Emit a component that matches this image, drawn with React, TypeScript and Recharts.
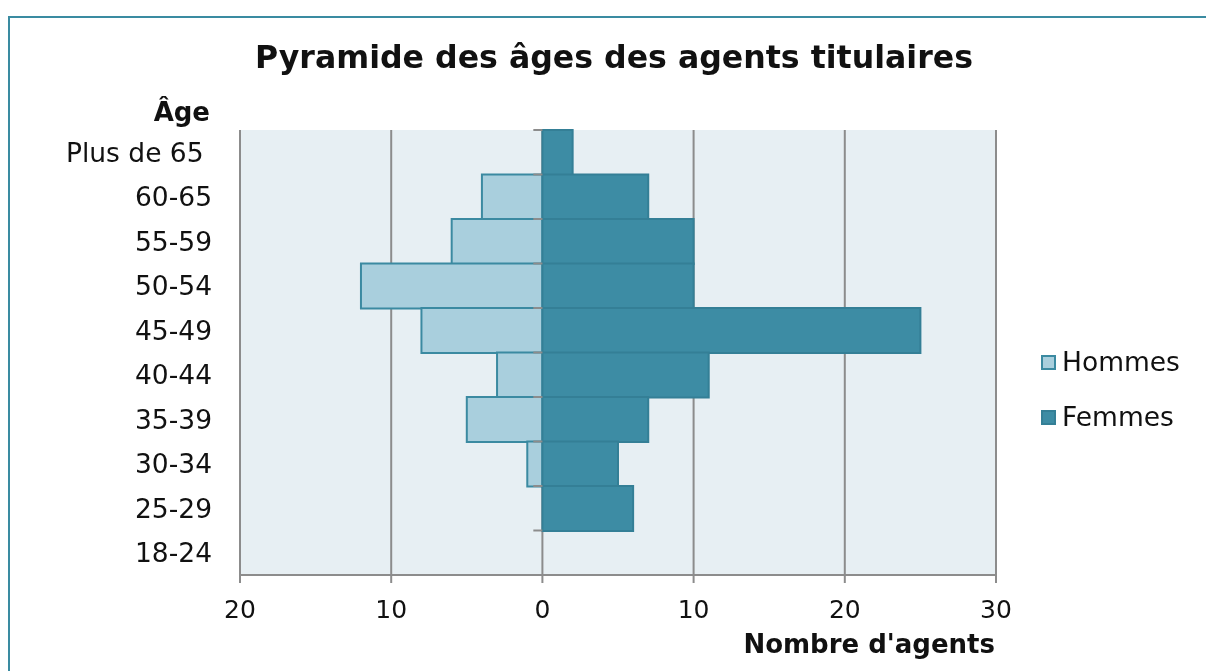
import React from "react";
import {
  BarChart,
  Bar,
  XAxis,
  YAxis,
  CartesianGrid,
  ReferenceLine,
  Legend,
} from "recharts";

const ageGroups = [
  "Plus de 65\u00a0",
  "60-65",
  "55-59",
  "50-54",
  "45-49",
  "40-44",
  "35-39",
  "30-34",
  "25-29",
  "18-24",
];
const hommes = [0, 4, 6, 12, 8, 3, 5, 1, 0, 0];
const femmes = [2, 7, 10, 10, 25, 11, 7, 5, 6, 0];
const xTicks = [-20, -10, 0, 10, 20, 30];
const seriesOrder = ["Hommes", "Femmes"];

const data = ageGroups.map((age, i) => ({
  age,
  Hommes: -hommes[i],
  Femmes: femmes[i],
}));

const FONT = "'DejaVu Sans', Verdana, sans-serif";
const GRID = "#8c8c8c";
const H_FILL = "#a9cfdd";
const H_STROKE = "#3b8aa1";
const F_FILL = "#3d8ca4";
const F_STROKE = "#347f96";

const strokes: Record<string, string> = { Hommes: H_STROKE, Femmes: F_STROKE };

const LegendContent = (props: any) => {
  const payload = [...(props.payload || [])].sort(
    (a: any, b: any) => seriesOrder.indexOf(a.value) - seriesOrder.indexOf(b.value)
  );
  return (
    <div style={{ fontFamily: FONT }}>
      {payload.map((entry: any, i: number) => (
        <div
          key={i}
          style={{
            display: "flex",
            alignItems: "center",
            height: 30,
            marginBottom: 25,
          }}
        >
          <div
            style={{
              width: 11,
              height: 11,
              background: entry.color,
              border: `2px solid ${strokes[entry.value] || entry.color}`,
              marginRight: 6,
            }}
          />
          <span style={{ fontSize: 26.5, color: "#111", lineHeight: "30px" }}>
            {entry.value}
          </span>
        </div>
      ))}
    </div>
  );
};

export default function App() {
  return (
    <div
      style={{
        position: "relative",
        width: 1198,
        height: 655,
        overflow: "hidden",
        background: "#fff",
      }}
    >
      <div
        style={{
          position: "fixed",
          left: 8,
          top: 16,
          width: 1400,
          height: 900,
          border: "2px solid #3a8ba1",
          boxSizing: "border-box",
        }}
      />
      <div
        style={{
          position: "absolute",
          left: 0,
          top: 34,
          width: 1212,
          textAlign: "center",
          fontFamily: FONT,
          fontWeight: "bold",
          fontSize: 31.6,
          lineHeight: "31px",
          color: "#111",
        }}
      >
        Pyramide des âges des agents titulaires
      </div>
      <div
        style={{
          position: "absolute",
          left: 0,
          top: 91,
          width: 202,
          textAlign: "right",
          fontFamily: FONT,
          fontWeight: "bold",
          fontSize: 26,
          lineHeight: "26px",
          color: "#111",
        }}
      >
        Âge
      </div>
      <div style={{ position: "absolute", left: 0, top: 0 }}>
        <BarChart
          width={1198}
          height={655}
          data={data}
          layout="vertical"
          stackOffset="sign"
          barCategoryGap={0}
          margin={{ top: 122, right: 210, bottom: 0, left: 32 }}
        >
          <CartesianGrid
            horizontal={false}
            vertical={true}
            stroke={GRID}
            strokeWidth={2}
            fill="#e7eff3"
            fillOpacity={1}
          />
          <XAxis
            type="number"
            domain={[-20, 30]}
            ticks={xTicks}
            interval={0}
            tickFormatter={(v: number) => String(Math.abs(v))}
            height={88}
            tickSize={8}
            tickMargin={17}
            stroke={GRID}
            axisLine={{ stroke: GRID, strokeWidth: 2 }}
            tickLine={{ stroke: GRID, strokeWidth: 2 }}
            tick={{ fill: "#111", fontSize: 25, fontFamily: FONT }}
            label={(p: any) => {
              const vb = p.viewBox || {};
              return (
                <text
                  x={vb.x + vb.width - 1}
                  y={vb.y + 78}
                  textAnchor="end"
                  fontFamily={FONT}
                  fontWeight="bold"
                  fontSize={26}
                  fill="#111"
                >
                  Nombre d'agents
                </text>
              );
            }}
          />
          <YAxis
            type="category"
            dataKey="age"
            width={200}
            axisLine={false}
            tickLine={false}
            tickSize={0}
            tickMargin={28}
            interval={0}
            tick={{ fill: "#111", fontSize: 26.5, fontFamily: FONT }}
          />
          {ageGroups.map((a) => (
            <ReferenceLine
              key={"t" + a}
              segment={[
                { x: -0.6, y: a },
                { x: 0, y: a },
              ]}
              position="start"
              stroke={GRID}
              strokeWidth={2}
            />
          ))}
          <ReferenceLine
            segment={[
              { x: -0.6, y: ageGroups[ageGroups.length - 1] },
              { x: 0, y: ageGroups[ageGroups.length - 1] },
            ]}
            position="end"
            stroke={GRID}
            strokeWidth={2}
          />
          <Bar
            dataKey="Hommes"
            stackId="a"
            fill={H_FILL}
            stroke={H_STROKE}
            strokeWidth={2}
            isAnimationActive={false}
          />
          <Bar
            dataKey="Femmes"
            stackId="a"
            fill={F_FILL}
            stroke={F_STROKE}
            strokeWidth={2}
            isAnimationActive={false}
          />
          <Legend
            layout="vertical"
            align="center"
            verticalAlign="middle"
            content={<LegendContent />}
            wrapperStyle={{ position: "absolute", left: 1033, top: 339, width: 160 }}
          />
        </BarChart>
      </div>
    </div>
  );
}
